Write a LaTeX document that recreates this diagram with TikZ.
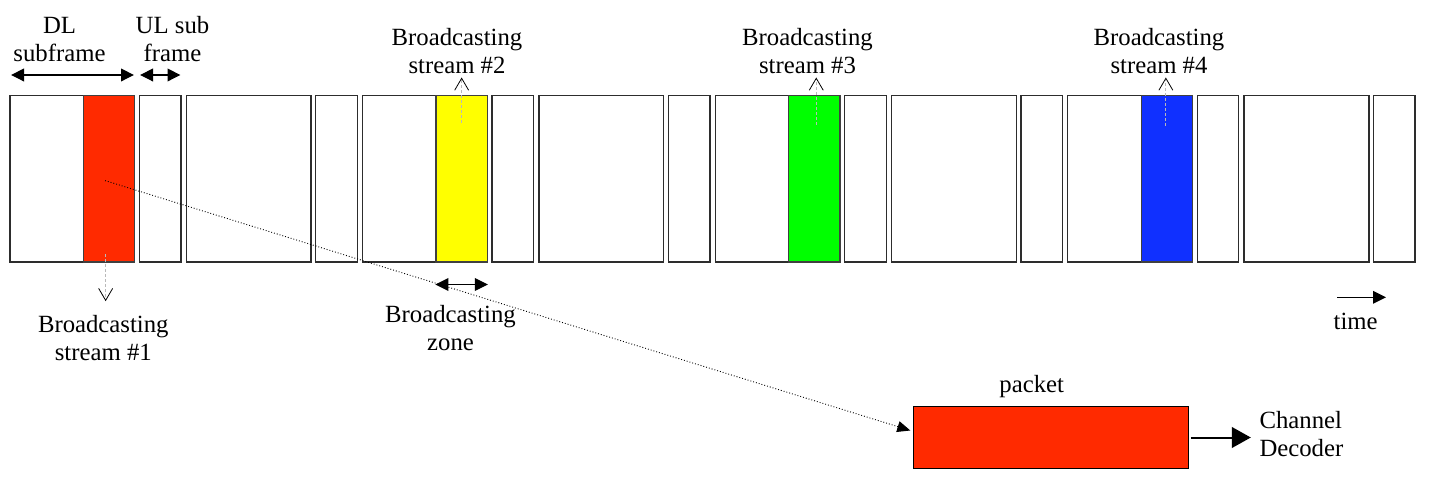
\documentclass[tikz,border=0pt]{standalone}
\usepackage{fontspec}
\setmainfont{Liberation Serif}
\usetikzlibrary{arrows.meta,calc}
\definecolor{bred}{RGB}{255,42,0}
\definecolor{byellow}{RGB}{255,255,0}
\definecolor{bgreen}{RGB}{0,255,0}
\definecolor{bblue}{RGB}{16,48,255}
\definecolor{edge}{RGB}{45,45,45}
\begin{document}
\begin{tikzpicture}[x=1pt,y=-1pt,
  lbl/.style={font=\fontsize{24.75}{28.5}\selectfont, align=center, inner sep=0pt},
  frm/.style={draw=edge, line width=1.3pt, fill=white, inner sep=0pt, minimum height=166.5pt, anchor=north west},
  colbox/.style={draw=black!75, line width=1.2pt, inner sep=0pt, minimum height=166.5pt, minimum width=51.3pt, anchor=north west},
  dimarrow/.style={line width=1.2pt, {Triangle[length=13pt,width=12.7pt]}-{Triangle[length=13pt,width=12.7pt]}},
  onearrow/.style={line width=1.2pt, -{Triangle[length=13pt,width=12.7pt]}},
  ptr/.style={draw=gray!55, line width=0.8pt, dash pattern=on 3pt off 2pt, -{Straight Barb[length=12pt,width=14pt,line width=0.8pt,color=black]}},
  dotarrow/.style={line width=0.9pt, dotted, -{Triangle[length=13pt,width=11pt]}},
  bigarrow/.style={line width=2pt, -{Triangle[length=19pt,width=20.7pt]}}
]
\useasboundingbox (0,0) rectangle (1429,486);

% frames
\foreach \k in {0,...,7}{
  \node[frm, minimum width=124.8pt] (dl\k) at ({9.3+176.3*\k},95) {};
  \node[frm, minimum width=41.5pt] (ul\k) at ({138.8+176.3*\k},95) {};
}
% broadcasting zones
\node[colbox, fill=bred]    (c0) at (82.8,95) {};
\node[colbox, fill=byellow] (c2) at ({82.8+2*176.3},95) {};
\node[colbox, fill=bgreen]  (c4) at ({82.8+4*176.3},95) {};
\node[colbox, fill=bblue]   (c6) at ({82.8+6*176.3},95) {};

% top labels (base = baseline of last line)
\node[lbl, anchor=base] (dlt) at (59.5,61.7) {DL\\subframe};
\node[lbl, anchor=base] (ult) at (172.5,61.7) {UL sub\\frame};
\coordinate (dla) at (11,75);
\coordinate (dlb) at (134,75);
\coordinate (ula) at (140,75);
\coordinate (ulb) at (180.5,75);
\draw[dimarrow] (dla) -- (dlb);
\draw[dimarrow] (ula) -- (ulb);

\node[lbl, anchor=base] (s2) at (457,74) {Broadcasting\\stream \#2};
\node[lbl, anchor=base] (s3) at (807.5,74) {Broadcasting\\stream \#3};
\node[lbl, anchor=base] (s4) at (1159,74) {Broadcasting\\stream \#4};

\coordinate (p2a) at ($(c2.north)+(0,28)$);
\coordinate (p2b) at ($(c2.north)+(0,-17.5)$);
\coordinate (p3a) at ($(c4.north)+(2,30)$);
\coordinate (p3b) at ($(c4.north)+(2,-17.5)$);
\coordinate (p4a) at ($(c6.north)+(-1,31)$);
\coordinate (p4b) at ($(c6.north)+(-1,-17.5)$);
\draw[ptr] (p2a) -- (p2b);
\draw[ptr] (p3a) -- (p3b);
\draw[ptr] (p4a) -- (p4b);

% stream 1
\node[lbl, anchor=base] (s1) at (103.3,360.7) {Broadcasting\\stream \#1};
\coordinate (p1a) at ($(c0.south)+(-3.4,-8.5)$);
\coordinate (p1b) at ($(c0.south)+(-3.4,38.5)$);
\draw[ptr] (p1a) -- (p1b);

% broadcasting zone
\coordinate (za) at ($(c2.south west)+(0,21.8)$);
\coordinate (zb) at ($(c2.south east)+(0,21.8)$);
\draw[dimarrow] (za) -- (zb);
\node[lbl, anchor=base] (zl) at (450.5,350.7) {Broadcasting\\zone};

% time
\coordinate (ta) at (1337,297.3);
\coordinate (tb) at (1386,297.3);
\draw[onearrow] (ta) -- (tb);
\node[lbl, anchor=base] (tl) at (1355.7,329.3) {time};

% packet
\node[draw=black, fill=bred, line width=1pt, inner sep=0pt, minimum width=275pt, minimum height=62.6pt, anchor=north west] (pk) at (913.3,405.7) {};
\node[lbl, anchor=base] (pkl) at (1031.7,392) {packet};
\node[lbl, align=left, anchor=base west] (cd) at (1259.3,456.7) {Channel\\Decoder};
\draw[bigarrow, shorten <=1.5pt, shorten >=8.5pt] (pk.east) -- (pk.east -| cd.west);

% dotted link
\coordinate (da) at ($(c0.center)+(-4,1.75)$);
\coordinate (db) at ($(pk.west)+(-3,-7)$);
\draw[dotarrow] (da) -- (db);
\end{tikzpicture}
\end{document}
